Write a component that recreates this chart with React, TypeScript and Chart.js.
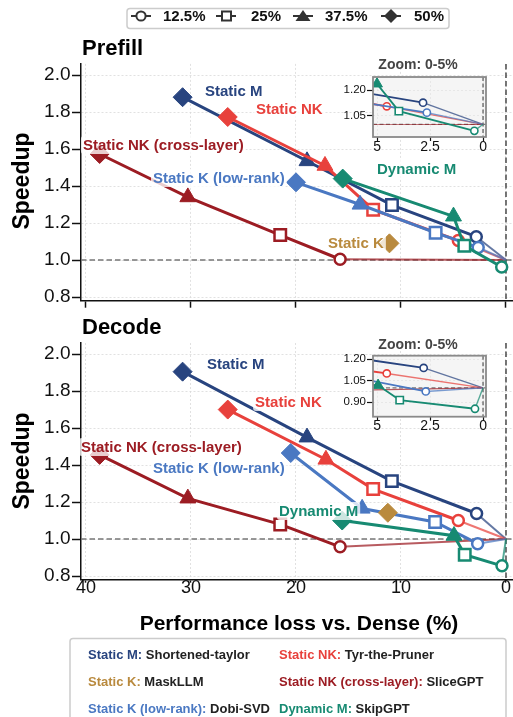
import React, { useEffect, useRef } from 'react';
import { Chart, registerables } from 'chart.js';

Chart.register(...registerables);

const FONT = '"Liberation Sans", Arial, Helvetica, sans-serif';

// ---- methods (drawing order: first = on top) ----
const methodNames = ['Dynamic M', 'Static K', 'Static K (low-rank)', 'Static NK', 'Static M', 'Static NK (cross-layer)'];
const methodColors = ['#178a72', '#b98a3e', '#4a78c2', '#e8413c', '#28447f', '#9c1c23'];

// each series runs 50% -> 37.5% -> 25% -> 12.5% -> dense
const ratioLabels = ['50%', '37.5%', '25%', '12.5%', 'Dense'];

// ---- Prefill: performance loss (%) / speedup ----
const prefillDynamicMLoss = [15.55, 5.0, 3.97, 0.41, 0];
const prefillDynamicMSpeed = [1.44, 1.236, 1.077, 0.962, 1.0];
const prefillStaticKLoss = [11.1];
const prefillStaticKSpeed = [1.09];
const prefillLowRankLoss = [20.0, 13.9, 6.7, 2.65, 0];
const prefillLowRankSpeed = [1.42, 1.3, 1.147, 1.068, 1.0];
const prefillStaticNKLoss = [26.5, 17.24, 12.65, 4.54, 0];
const prefillStaticNKSpeed = [1.773, 1.51, 1.272, 1.105, 1.0];
const prefillStaticMLoss = [30.8, 18.95, 10.86, 2.83, 0];
const prefillStaticMSpeed = [1.88, 1.535, 1.297, 1.126, 1.0];
const prefillCrossLayerLoss = [38.7, 30.3, 21.5, 15.8, 0];
const prefillCrossLayerSpeed = [1.573, 1.34, 1.135, 1.004, 1.0];

// ---- Decode ----
const decodeDynamicMLoss = [15.6, 4.95, 3.93, 0.38, 0];
const decodeDynamicMSpeed = [1.1, 1.018, 0.915, 0.855, 1.0];
const decodeStaticKLoss = [11.25];
const decodeStaticKSpeed = [1.142];
const decodeLowRankLoss = [20.5, 13.7, 6.75, 2.7, 0];
const decodeLowRankSpeed = [1.465, 1.165, 1.092, 0.975, 1.0];
const decodeStaticNKLoss = [26.5, 17.15, 12.65, 4.54, 0];
const decodeStaticNKSpeed = [1.7, 1.43, 1.27, 1.1, 1.0];
const decodeStaticMLoss = [30.8, 18.95, 10.87, 2.8, 0];
const decodeStaticMSpeed = [1.905, 1.55, 1.313, 1.138, 1.0];
const decodeCrossLayerLoss = [38.7, 30.3, 21.5, 15.8, 0];
const decodeCrossLayerSpeed = [1.455, 1.22, 1.079, 0.958, 1.0];

// ---- in-plot labels (left edge x, centre y, in data units) ----
const prefillLabelText = ['Static M', 'Static NK', 'Static NK (cross-layer)', 'Static K (low-rank)', 'Dynamic M', 'Static K'];
const prefillLabelX = [28.67, 23.81, 40.29, 33.62, 12.29, 16.95];
const prefillLabelY = [1.913, 1.816, 1.622, 1.443, 1.492, 1.092];
const decodeLabelText = ['Static M', 'Static NK', 'Static NK (cross-layer)', 'Static K (low-rank)', 'Dynamic M'];
const decodeLabelX = [28.48, 23.9, 40.48, 33.62, 21.62];
const decodeLabelY = [1.946, 1.741, 1.497, 1.384, 1.151];

// ---- ticks ----
const xTicks = [0, 10, 20, 30, 40];
const yTicks = [0.8, 1.0, 1.2, 1.4, 1.6, 1.8, 2.0];
const insetXTicks = [0, 2.5, 5];
const prefillInsetYTicks = [1.05, 1.2];
const decodeInsetYTicks = [0.9, 1.05, 1.2];

// ---- legend text ----
const legendMethod = ['Static M:', 'Static NK:', 'Static K:', 'Static NK (cross-layer):', 'Static K (low-rank):', 'Dynamic M:'];
const legendWork = ['Shortened-taylor', 'Tyr-the-Pruner', 'MaskLLM', 'SliceGPT', 'Dobi-SVD', 'SkipGPT'];

const prefillLoss = [prefillDynamicMLoss, prefillStaticKLoss, prefillLowRankLoss, prefillStaticNKLoss, prefillStaticMLoss, prefillCrossLayerLoss];
const prefillSpeed = [prefillDynamicMSpeed, prefillStaticKSpeed, prefillLowRankSpeed, prefillStaticNKSpeed, prefillStaticMSpeed, prefillCrossLayerSpeed];
const decodeLoss = [decodeDynamicMLoss, decodeStaticKLoss, decodeLowRankLoss, decodeStaticNKLoss, decodeStaticMLoss, decodeCrossLayerLoss];
const decodeSpeed = [decodeDynamicMSpeed, decodeStaticKSpeed, decodeLowRankSpeed, decodeStaticNKSpeed, decodeStaticMSpeed, decodeCrossLayerSpeed];

const markerShapes = ['rectRot', 'triangle', 'rect', 'circle', 'circle'];
const mainRadius = [9.5, 9.2, 8.1, 5.5, 0];
const insetRadius = [6, 6.2, 5.2, 3.6, 0];

const colorOf = (name: string) => methodColors[methodNames.indexOf(name)];
const rgba = (hex: string, a: number) => {
  const n = parseInt(hex.slice(1), 16);
  return `rgba(${(n >> 16) & 255},${(n >> 8) & 255},${n & 255},${a})`;
};

function buildDatasets(losses: number[][], speeds: number[][], inset: boolean) {
  return losses.map((xs, k) => {
    const color = methodColors[k];
    const n = xs.length;
    const data = xs.map((x, i) => ({ x, y: speeds[k][i], r: ratioLabels[i] }));
    const radius = inset ? insetRadius : mainRadius;
    return {
      label: methodNames[k],
      data,
      showLine: n > 1,
      borderColor: color,
      backgroundColor: color,
      borderWidth: inset ? 1.8 : 3,
      pointStyle: data.map((_, i) => markerShapes[i]),
      pointRadius: data.map((_, i) => radius[i]),
      pointHoverRadius: data.map((_, i) => radius[i]),
      pointBackgroundColor: data.map((_, i) => (i < 2 ? color : '#ffffff')),
      pointBorderColor: color,
      pointBorderWidth: data.map((_, i) => (i < 2 ? 1 : inset ? 1.6 : 2.5)),
      segment: {
        borderWidth: (c: any) => (c.p1DataIndex === n - 1 ? (inset ? 1.4 : 2) : undefined),
        borderColor: (c: any) => (c.p1DataIndex === n - 1 ? rgba(color, 0.72) : undefined),
      },
    };
  });
}

function mainDecor(p: {
  text: string[]; lx: number[]; ly: number[]; title: string; titleBase: number; speedupY: number; xTitleBase: number | null;
}) {
  return {
    id: 'mainDecor',
    beforeDatasetsDraw(chart: any) {
      const { ctx, chartArea: a, scales } = chart;
      ctx.save();
      ctx.lineWidth = 1.5;
      ctx.setLineDash([5.5, 3]);
      ctx.strokeStyle = '#777777';
      const py = scales.y.getPixelForValue(1);
      ctx.beginPath();
      ctx.moveTo(a.left, py);
      ctx.lineTo(a.right, py);
      ctx.stroke();
      const px = scales.x.getPixelForValue(0);
      ctx.strokeStyle = '#4a4a4a';
      ctx.beginPath();
      ctx.moveTo(px, a.top);
      ctx.lineTo(px, a.bottom);
      ctx.stroke();
      ctx.restore();
    },
    afterDatasetsDraw(chart: any) {
      const { ctx, scales } = chart;
      ctx.save();
      ctx.font = `bold 15px ${FONT}`;
      ctx.textBaseline = 'middle';
      ctx.textAlign = 'left';
      p.text.forEach((t, i) => {
        const px = scales.x.getPixelForValue(p.lx[i]);
        const py = scales.y.getPixelForValue(p.ly[i]);
        const w = ctx.measureText(t).width;
        ctx.fillStyle = 'rgba(255,255,255,0.78)';
        ctx.beginPath();
        ctx.roundRect(px - 2, py - 9, w + 4, 18, 3);
        ctx.fill();
        ctx.fillStyle = colorOf(t);
        ctx.fillText(t, px, py + 0.5);
      });
      ctx.restore();
    },
    afterDraw(chart: any) {
      const { ctx } = chart;
      ctx.save();
      ctx.fillStyle = '#000';
      ctx.font = `bold 22px ${FONT}`;
      ctx.textAlign = 'left';
      ctx.textBaseline = 'alphabetic';
      ctx.fillText(p.title, 82, p.titleBase);
      ctx.save();
      ctx.translate(23, p.speedupY);
      ctx.rotate(-Math.PI / 2);
      ctx.font = `bold 23px ${FONT}`;
      ctx.textAlign = 'center';
      ctx.textBaseline = 'middle';
      ctx.fillText('Speedup', 0, 0);
      ctx.restore();
      if (p.xTitleBase !== null) {
        ctx.font = `bold 21px ${FONT}`;
        ctx.textAlign = 'center';
        ctx.fillText('Performance loss vs. Dense (%)', 299, p.xTitleBase);
      }
      ctx.restore();
    },
  };
}

function mainConfig(losses: number[][], speeds: number[][], o: {
  height: number; padTop: number; xAxisH: number; showXLabels: boolean; decor: any;
}) {
  return {
    type: 'scatter',
    data: { datasets: buildDatasets(losses, speeds, false) },
    options: {
      responsive: false,
      animation: false,
      devicePixelRatio: 1,
      events: [],
      layout: { autoPadding: false, padding: { top: o.padTop, left: 0, right: 0, bottom: 0 } },
      plugins: { legend: { display: false }, tooltip: { enabled: false } },
      scales: {
        x: {
          type: 'linear',
          reverse: true,
          min: -0.667,
          max: 40.476,
          afterBuildTicks: (s: any) => { s.ticks = xTicks.map((v) => ({ value: v })); },
          afterFit: (s: any) => { s.height = o.xAxisH; s.paddingLeft = 0; s.paddingRight = 0; },
          ticks: {
            font: { family: FONT, size: 18 },
            color: o.showXLabels ? '#111' : 'rgba(0,0,0,0)',
            padding: o.showXLabels ? -5.5 : 0,
            maxRotation: 0,
            autoSkip: false,
            callback: (v: any) => String(v),
          },
          grid: {
            color: '#dadada', lineWidth: 0.8, tickColor: '#111', tickWidth: 1.5,
            tickLength: o.showXLabels ? 3 : 7, tickBorderDash: [],
          },
          border: { display: true, color: '#111', width: 1.5, dash: [2, 2] },
        },
        y: {
          type: 'linear',
          min: 0.78,
          max: 2.06,
          afterBuildTicks: (s: any) => { s.ticks = yTicks.map((v) => ({ value: v })); },
          afterFit: (s: any) => { s.width = 81; s.paddingTop = 0; s.paddingBottom = 0; },
          ticks: {
            font: { family: FONT, size: 19 },
            color: '#111',
            padding: 1.5,
            callback: (v: any) => Number(v).toFixed(1),
          },
          grid: { color: '#dadada', lineWidth: 0.8, tickColor: '#111', tickWidth: 1.5, tickLength: 9, tickBorderDash: [] },
          border: { display: true, color: '#111', width: 1.5, dash: [2, 2] },
        },
      },
    },
    plugins: [o.decor],
  };
}

function insetDecor(titleX: number, titleY: number) {
  return {
    id: 'insetDecor',
    beforeDraw(chart: any) {
      const { ctx, chartArea: a } = chart;
      ctx.save();
      ctx.fillStyle = '#f5f5f5';
      ctx.fillRect(a.left, a.top, a.right - a.left, a.bottom - a.top);
      ctx.restore();
    },
    beforeDatasetsDraw(chart: any) {
      const { ctx, chartArea: a, scales } = chart;
      ctx.save();
      ctx.lineWidth = 1.2;
      ctx.setLineDash([4, 2.5]);
      ctx.strokeStyle = '#777';
      const py = scales.y.getPixelForValue(1);
      ctx.beginPath();
      ctx.moveTo(a.left, py);
      ctx.lineTo(a.right, py);
      ctx.stroke();
      const px = scales.x.getPixelForValue(0);
      ctx.strokeStyle = '#555';
      ctx.beginPath();
      ctx.moveTo(px, a.top);
      ctx.lineTo(px, a.bottom);
      ctx.stroke();
      ctx.restore();
    },
    afterDraw(chart: any) {
      const { ctx, chartArea: a } = chart;
      ctx.save();
      ctx.strokeStyle = '#8a8a8a';
      ctx.lineWidth = 1.8;
      ctx.strokeRect(a.left, a.top, a.right - a.left, a.bottom - a.top);
      ctx.fillStyle = '#444';
      ctx.font = `bold 14px ${FONT}`;
      ctx.textAlign = 'center';
      ctx.textBaseline = 'middle';
      ctx.fillText('Zoom: 0-5%', titleX, titleY);
      ctx.restore();
    },
  };
}

function insetConfig(losses: number[][], speeds: number[][], o: {
  yMin: number; yMax: number; yTicks: number[]; padTop: number; xAxisH: number;
}) {
  return {
    type: 'scatter',
    data: { datasets: buildDatasets(losses, speeds, true) },
    options: {
      responsive: false,
      animation: false,
      devicePixelRatio: 1,
      events: [],
      layout: { autoPadding: false, padding: { top: o.padTop, left: 0, right: 14, bottom: 0 } },
      plugins: { legend: { display: false }, tooltip: { enabled: false } },
      scales: {
        x: {
          type: 'linear',
          reverse: true,
          min: -0.14,
          max: 5.19,
          afterBuildTicks: (s: any) => { s.ticks = insetXTicks.map((v) => ({ value: v })); },
          afterFit: (s: any) => { s.height = o.xAxisH; s.paddingLeft = 0; s.paddingRight = 0; },
          ticks: { font: { family: FONT, size: 14 }, color: '#111', padding: -2.5, maxRotation: 0, autoSkip: false, callback: (v: any) => String(v) },
          grid: { color: '#e2e2e2', lineWidth: 0.7, tickColor: '#111', tickWidth: 1.2, tickLength: 4, tickBorderDash: [] },
          border: { display: false, dash: [2, 2] },
        },
        y: {
          type: 'linear',
          min: o.yMin,
          max: o.yMax,
          afterBuildTicks: (s: any) => { s.ticks = o.yTicks.map((v) => ({ value: v })); },
          afterFit: (s: any) => { s.width = 53; s.paddingTop = 0; s.paddingBottom = 0; },
          ticks: { font: { family: FONT, size: 11.5 }, color: '#111', padding: 1, callback: (v: any) => Number(v).toFixed(2) },
          grid: { color: '#e2e2e2', lineWidth: 0.7, tickColor: '#111', tickWidth: 1.2, tickLength: 6, tickBorderDash: [] },
          border: { display: false, dash: [2, 2] },
        },
      },
    },
    plugins: [insetDecor(98, 15)],
  };
}

function ChartCanvas(props: { make: () => any; left: number; top: number; width: number; height: number }) {
  const ref = useRef<HTMLCanvasElement>(null);
  useEffect(() => {
    const chart = new Chart(ref.current as HTMLCanvasElement, props.make());
    return () => chart.destroy();
  }, []);
  return (
    <canvas
      ref={ref}
      width={props.width}
      height={props.height}
      style={{ position: 'absolute', left: props.left, top: props.top, width: props.width, height: props.height }}
    />
  );
}

function TopLegend() {
  const c = '#333';
  const y = 16;
  const txt = { fontFamily: FONT, fontWeight: 700, fontSize: 15, fill: '#111' } as any;
  return (
    <svg width={513} height={34} style={{ position: 'absolute', left: 0, top: 0 }}>
      <rect x={127} y={8.5} width={322} height={20} rx={3} fill="#fff" stroke="#cccccc" strokeWidth={1.5} />
      <line x1={131} x2={151} y1={y} y2={y} stroke={c} strokeWidth={2} />
      <circle cx={141} cy={y} r={4.6} fill="#fff" stroke={c} strokeWidth={2} />
      <text x={163} y={y + 5.4} style={txt}>{ratioLabels[3]}</text>
      <line x1={216} x2={236} y1={y} y2={y} stroke={c} strokeWidth={2} />
      <rect x={222} y={y - 4.5} width={9} height={9} fill="#fff" stroke={c} strokeWidth={2} />
      <text x={251} y={y + 5.4} style={txt}>{ratioLabels[2]}</text>
      <line x1={293} x2={313} y1={y} y2={y} stroke={c} strokeWidth={2} />
      <polygon points={`${303},${y - 6} ${310.5},${y + 5} ${295.5},${y + 5}`} fill={c} />
      <text x={325} y={y + 5.4} style={txt}>{ratioLabels[1]}</text>
      <line x1={381} x2={401} y1={y} y2={y} stroke={c} strokeWidth={2} />
      <polygon points={`${391},${y - 7} ${398},${y} ${391},${y + 7} ${384},${y}`} fill={c} />
      <text x={414} y={y + 5.4} style={txt}>{ratioLabels[0]}</text>
    </svg>
  );
}

function BottomLegend() {
  const cols = [88, 279];
  const rows = [28.6, 55.6, 82.6];
  const txt = { fontFamily: FONT, fontWeight: 700, fontSize: 13 } as any;
  return (
    <svg width={513} height={87} style={{ position: 'absolute', left: 0, top: 630 }}>
      <rect x={70} y={8.5} width={436} height={100} rx={3} fill="#fff" stroke="#cccccc" strokeWidth={1.5} />
      {legendMethod.map((m, i) => (
        <text key={m} x={cols[i % 2]} y={rows[Math.floor(i / 2)]} style={txt}>
          <tspan fill={colorOf(m.replace(':', ''))}>{m}</tspan>
          <tspan dx={3.6} fill="#222">{legendWork[i]}</tspan>
        </text>
      ))}
    </svg>
  );
}

export default function App() {
  return (
    <div style={{ position: 'absolute', left: 0, top: 0, width: 513, height: 717, overflow: 'hidden', background: '#fff' }}>
      <ChartCanvas
        left={0} top={30} width={513} height={285}
        make={() => mainConfig(prefillLoss, prefillSpeed, {
          height: 285, padTop: 33.9, xAxisH: 14.3, showXLabels: false,
          decor: mainDecor({ text: prefillLabelText, lx: prefillLabelX, ly: prefillLabelY, title: 'Prefill', titleBase: 25, speedupY: 151, xTitleBase: null }),
        })}
      />
      <ChartCanvas
        left={0} top={315} width={513} height={325}
        make={() => mainConfig(decodeLoss, decodeSpeed, {
          height: 325, padTop: 28, xAxisH: 60.3, showXLabels: true,
          decor: mainDecor({ text: decodeLabelText, lx: decodeLabelX, ly: decodeLabelY, title: 'Decode', titleBase: 19, speedupY: 146, xTitleBase: 315 }),
        })}
      />
      <ChartCanvas
        left={320} top={50} width={180} height={115}
        make={() => insetConfig(prefillLoss, prefillSpeed, { yMin: 0.926, yMax: 1.276, yTicks: prefillInsetYTicks, padTop: 27, xAxisH: 28 })}
      />
      <ChartCanvas
        left={320} top={330} width={180} height={115}
        make={() => insetConfig(decodeLoss, decodeSpeed, { yMin: 0.8, yMax: 1.223, yTicks: decodeInsetYTicks, padTop: 25.7, xAxisH: 28.3 })}
      />
      <TopLegend />
      <BottomLegend />
    </div>
  );
}
